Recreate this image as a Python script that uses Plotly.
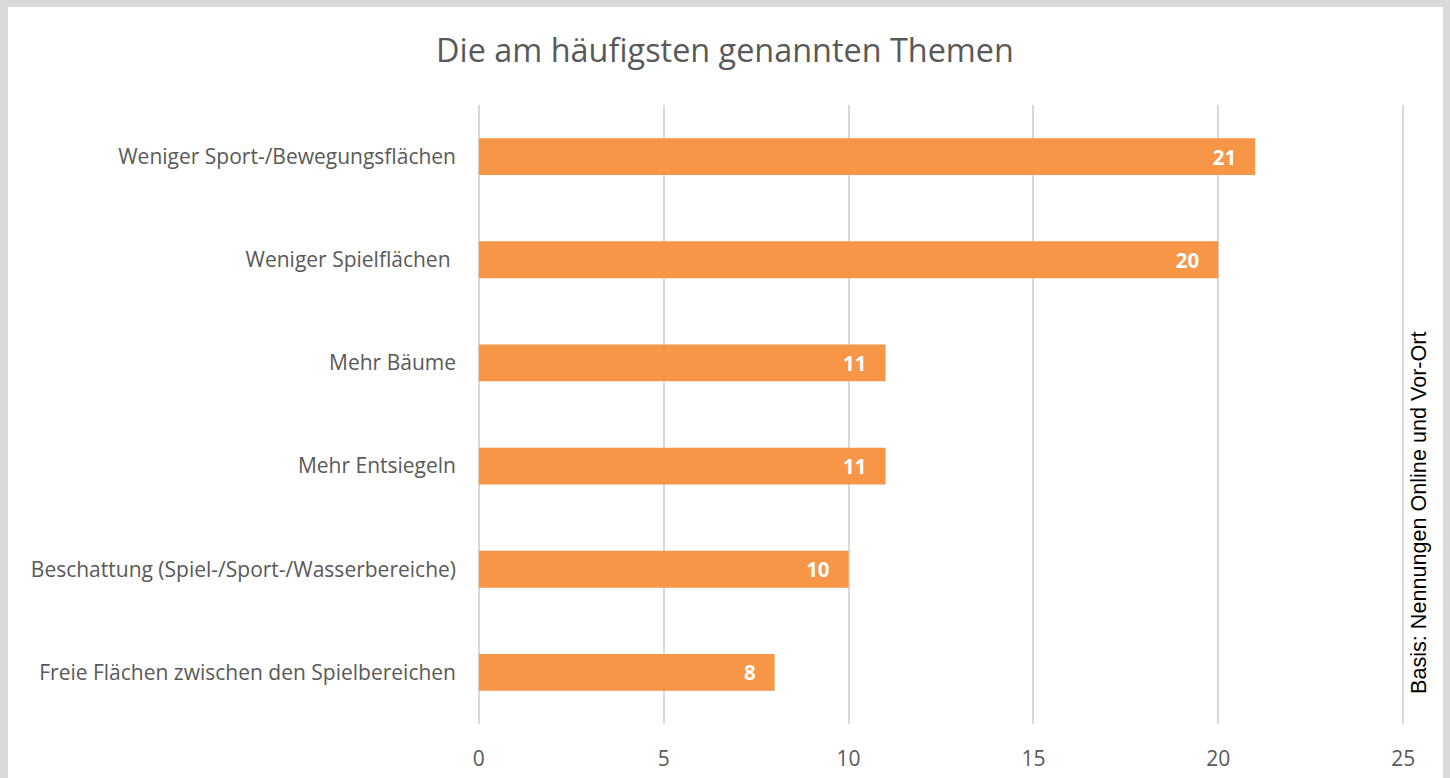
import plotly.graph_objects as go

categories = [
    "Weniger Sport-/Bewegungsflächen",
    "Weniger Spielflächen ",
    "Mehr Bäume",
    "Mehr Entsiegeln",
    "Beschattung (Spiel-/Sport-/Wasserbereiche)",
    "Freie Flächen zwischen den Spielbereichen",
]
values = [21, 20, 11, 11, 10, 8]
x_ticks = [0, 5, 10, 15, 20, 25]
title_text = "Die am häufigsten genannten Themen"
side_note = "Basis: Nennungen Online und Vor-Ort"

TEXT_GREY = "#595959"
BAR_COLOR = "#F79646"
GRID = "#d9d9d9"
FONT = "Open Sans"

W, H = 1450, 778
L, R, T, B = 477, 45, 105, 54
pw = W - L - R
ph = H - T - B

def px_x(px):
    return (px - L) / pw

def px_y(py):
    return (H - B - py) / ph

fig = go.Figure()
fig.add_trace(go.Bar(
    y=categories,
    x=values,
    orientation="h",
    marker=dict(color=BAR_COLOR, line=dict(width=0)),
    text=values,
    texttemplate="<b>%{text}</b>\u00a0\u00a0\u00a0",
    textposition="inside",
    insidetextanchor="end",
    textfont=dict(family=FONT, size=20.5, color="white"),
    hoverinfo="skip",
))

fig.update_layout(
    width=W, height=H,
    autosize=False,
    margin=dict(l=L, r=R, t=T, b=B, pad=0, autoexpand=False),
    paper_bgcolor=GRID,
    plot_bgcolor="rgba(0,0,0,0)",
    showlegend=False,
    bargap=0.643,
    font=dict(family=FONT, color=TEXT_GREY),
    title=dict(text=title_text, x=0.5, xanchor="center", xref="container",
               y=1 - 51 / H, yanchor="middle",
               font=dict(family=FONT, size=32.4, color=TEXT_GREY)),
    xaxis=dict(range=[-0.05, 25.05], tickvals=x_ticks, showgrid=True,
               gridcolor=GRID, gridwidth=1.5, zeroline=True,
               zerolinecolor=GRID, zerolinewidth=1.5,
               showline=False, ticks="", ticklabelstandoff=20,
               automargin=False,
               tickfont=dict(family=FONT, size=21, color=TEXT_GREY),
               fixedrange=True),
    yaxis=dict(autorange="reversed", showgrid=False, zeroline=False,
               showline=False, ticks="", ticklabelstandoff=20,
               automargin=False,
               tickfont=dict(family=FONT, size=21, color=TEXT_GREY),
               fixedrange=True),
    shapes=[dict(type="rect", xref="paper", yref="paper",
                 x0=px_x(8), x1=px_x(1443), y0=px_y(800), y1=px_y(7),
                 fillcolor="white", line=dict(width=0), layer="below")],
    annotations=[dict(text=side_note, xref="paper", yref="paper",
                      x=px_x(1418), y=px_y(513), xanchor="center", yanchor="middle",
                      textangle=-90, showarrow=False,
                      font=dict(family="Liberation Sans", size=21.6, color="black"))],
)

fig.write_html("out.html", config={"displayModeBar": False},
               post_script="document.body.style.margin='0';document.body.style.overflow='hidden';")
